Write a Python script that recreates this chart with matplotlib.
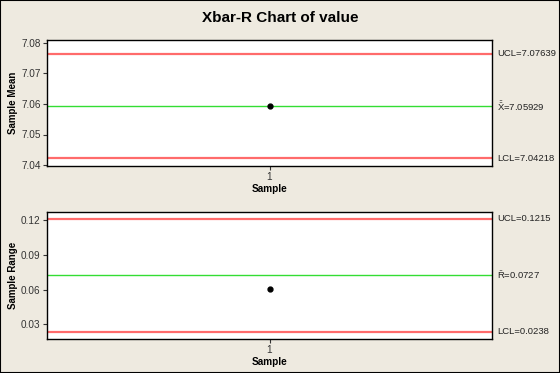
import matplotlib.pyplot as plt

samples = [1]
xbar_values = [7.05929]
range_values = [0.0603]

xbar_center = 7.05929
xbar_ucl = 7.07639
xbar_lcl = 7.04218
r_center = 0.0727
r_ucl = 0.1215
r_lcl = 0.0238

xbar_ticks = [7.04, 7.05, 7.06, 7.07, 7.08]
r_ticks = [0.03, 0.06, 0.09, 0.12]

bg = '#EEEAE0'
red = '#FF6B6B'
green = '#33DD33'

plt.rcParams['font.family'] = ['Liberation Sans', 'DejaVu Sans']
plt.rcParams['mathtext.fontset'] = 'custom'
plt.rcParams['mathtext.rm'] = 'Liberation Sans'

fig = plt.figure(figsize=(5.6, 3.73), dpi=100, facecolor=bg)
W, H = 560, 373

def add_ax(left, top, right, bottom):
    return fig.add_axes([left / W, 1 - bottom / H, (right - left) / W, (bottom - top) / H])

ax1 = add_ax(47, 40, 492, 166)
ax2 = add_ax(47, 212, 492, 339)

fig.text(202 / W, 1 - 18 / H, 'Xbar-R Chart of value', ha='left', va='center',
         fontsize=11, fontweight='bold')

panels = [
    (ax1, xbar_values, xbar_center, xbar_ucl, xbar_lcl, xbar_ticks, (7.0397, 7.0809),
     'Sample Mean', ['UCL=7.07639', r'$\bar{\bar{\mathrm{X}}}$=7.05929', 'LCL=7.04218']),
    (ax2, range_values, r_center, r_ucl, r_lcl, r_ticks, (0.0174, 0.1273),
     'Sample Range', ['UCL=0.1215', r'$\bar{\mathrm{R}}$=0.0727', 'LCL=0.0238']),
]

for ax, vals, c, u, l, ticks, ylim, ylab, labs in panels:
    ax.set_facecolor('white')
    ax.axhline(u, color=red, lw=1.6)
    ax.axhline(l, color=red, lw=1.6)
    ax.axhline(c, color=green, lw=1.0)
    ax.plot(samples, vals, 'o', color='black', ms=3.5)
    ax.set_xlim(0.5, 1.5)
    ax.set_ylim(*ylim)
    ax.set_xticks(samples)
    ax.set_xticklabels([str(s) for s in samples])
    ax.set_yticks(ticks)
    ax.set_yticklabels(['%.2f' % t for t in ticks])
    ax.tick_params(labelsize=7.2, length=3, width=0.8, pad=1.5, colors='#333333')
    ax.set_xlabel('Sample', fontsize=7.2, fontweight='bold', labelpad=1)
    ax.set_ylabel(ylab, fontsize=7, fontweight='bold', labelpad=2)
    for s in ax.spines.values():
        s.set_color('black')
        s.set_linewidth(1.0)
    for y, t in zip([u, c, l], labs):
        ax.text(1.012, y, t, transform=ax.get_yaxis_transform(), fontsize=6.8,
                va='center', ha='left', color='#222222')

# figure border
fig.patches.append(plt.Rectangle((0, 0), 1, 1, transform=fig.transFigure,
                                 fill=False, edgecolor='black', lw=1.5))

fig.savefig('out.png', dpi=100, facecolor=bg)
